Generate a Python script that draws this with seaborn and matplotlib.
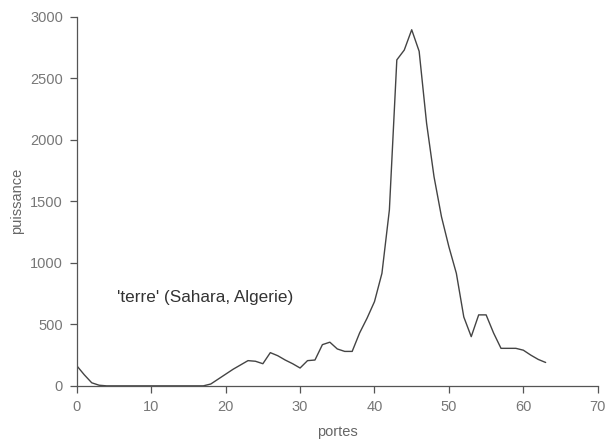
import numpy as np
import pandas as pd
import seaborn as sns
import matplotlib
matplotlib.use("Agg")
import matplotlib.pyplot as plt

# portes (range gates) and power
portes = list(range(0, 64))
puissance = [163, 90, 25, 5, 0, 0, 0, 0, 0, 0,
             0, 0, 0, 0, 0, 0, 0, 0, 15, 55,
             95, 135, 170, 205, 200, 180, 270, 245, 210, 180,
             145, 205, 210, 335, 355, 300, 280, 280, 430, 550,
             685, 915, 1430, 2650, 2730, 2895, 2720, 2135, 1700, 1375,
             1130, 915, 560, 400, 577, 577, 430, 305, 305, 305,
             290, 250, 215, 190]

label = "'terre' (Sahara, Algerie)"
xticks = [0, 10, 20, 30, 40, 50, 60, 70]
yticks = [0, 500, 1000, 1500, 2000, 2500, 3000]

df = pd.DataFrame({"portes": portes, "puissance": puissance})

sns.set_style("ticks")
plt.rcParams['font.family'] = ['Liberation Sans', 'DejaVu Sans']

grey = "#555555"
fig = plt.figure(figsize=(6.05, 4.43), dpi=100)
ax = fig.add_axes([0.127, 0.129, 0.861, 0.833])

sns.lineplot(data=df, x="portes", y="puissance", ax=ax, color="#444444", linewidth=1.0)

ax.set_xlim(0, 70)
ax.set_ylim(0, 3000)
ax.set_xticks(xticks)
ax.set_yticks(yticks)
ax.tick_params(colors=grey, labelcolor="#777777", labelsize=10.5, length=5, width=0.9, pad=5)
sns.despine(ax=ax)
for s in ["left", "bottom"]:
    ax.spines[s].set_color(grey)
    ax.spines[s].set_linewidth(0.9)

ax.set_xlabel("portes", fontsize=10.5, color="#666666", labelpad=8)
ax.set_ylabel("puissance", fontsize=10.5, color="#666666", labelpad=4)
ax.text(5.4, 715, label, fontsize=12.3, color="#333333", va="center", ha="left")

fig.savefig("out.png", dpi=100)
